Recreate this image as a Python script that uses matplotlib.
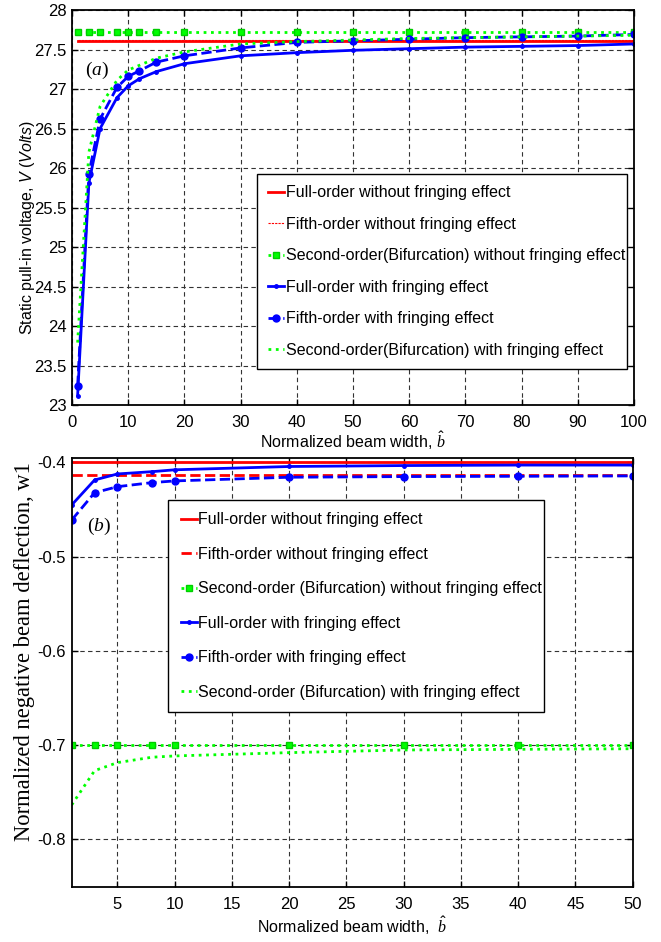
import matplotlib
matplotlib.use("Agg")
import matplotlib.pyplot as plt
from matplotlib import font_manager as fm

names = {f.name for f in fm.fontManager.ttflist}
SANS = "Liberation Sans Narrow" if "Liberation Sans Narrow" in names else "Liberation Sans"
SERIF = "Liberation Serif"

plt.rcParams["font.family"] = [SANS, "DejaVu Sans"]
plt.rcParams["mathtext.fontset"] = "custom"
plt.rcParams["mathtext.rm"] = SANS
plt.rcParams["mathtext.it"] = SANS + ":italic"
plt.rcParams["mathtext.sf"] = SERIF + ":italic"

# ---------------- data (a) ----------------
b_a = [1, 3, 5, 8, 10, 12, 15, 20, 30, 40, 50, 60, 70, 80, 90, 100]
full_nofr_a = [27.61] * len(b_a)
fifth_nofr_a = [27.615] * len(b_a)
second_nofr_a = [27.727] * len(b_a)
full_fr_a = [23.12, 25.81, 26.50, 26.89, 27.04, 27.13, 27.22, 27.32, 27.42, 27.46,
             27.49, 27.51, 27.53, 27.54, 27.55, 27.57]
fifth_fr_a = [23.24, 25.93, 26.62, 27.02, 27.16, 27.23, 27.34, 27.42, 27.52, 27.59,
              27.61, 27.63, 27.65, 27.66, 27.67, 27.69]
second_fr_a = [23.79, 26.20, 26.78, 27.11, 27.24, 27.30, 27.39, 27.47, 27.57, 27.60,
               27.62, 27.64, 27.65, 27.66, 27.67, 27.68]

# ---------------- data (b) ----------------
b_b = [1, 3, 5, 8, 10, 20, 30, 40, 50]
full_nofr_b = [-0.400] * len(b_b)
fifth_nofr_b = [-0.4135] * len(b_b)
second_nofr_b = [-0.700] * len(b_b)
full_fr_b = [-0.4453, -0.4188, -0.4124, -0.4100, -0.4080, -0.4045, -0.4035, -0.4030, -0.4030]
fifth_fr_b = [-0.4613, -0.4323, -0.4259, -0.4216, -0.4198, -0.4159, -0.4152, -0.4149, -0.4145]
second_fr_b = [-0.7636, -0.7272, -0.7187, -0.7130, -0.7116, -0.7081, -0.7053, -0.7046, -0.7040]

labels_a = ["Full-order without fringing effect",
            "Fifth-order without fringing effect",
            "Second-order(Bifurcation) without fringing effect",
            "Full-order with fringing effect",
            "Fifth-order with fringing effect",
            "Second-order(Bifurcation) with fringing effect"]
labels_b = ["Full-order without fringing effect",
            "Fifth-order without fringing effect",
            "Second-order (Bifurcation) without fringing effect",
            "Full-order with fringing effect",
            "Fifth-order with fringing effect",
            "Second-order (Bifurcation) with fringing effect"]

RED, BLUE, GREEN = "#ff0000", "#0000ff", "#00ff00"

fig = plt.figure(figsize=(6.61, 9.42), dpi=100)
ax1 = fig.add_axes([72/661, 1-405/942, 562/661, 395/942])
ax2 = fig.add_axes([71.7/661, 1-887.3/942, 561/661, 429/942])


def style(ax):
    ax.grid(True, color="#333333", linestyle=(0, (4, 3)), linewidth=0.8)
    ax.set_axisbelow(True)
    ax.tick_params(direction="in", length=4, width=1, top=True, right=True,
                   labelsize=12)
    ax.tick_params(axis="x", pad=7)
    ax.tick_params(axis="y", pad=4)
    for s in ax.spines.values():
        s.set_linewidth(1.3)


# ----- panel (a) -----
ax1.plot(b_a, full_nofr_a, color=RED, lw=2, label=labels_a[0])
ax1.plot(b_a, fifth_nofr_a, color=RED, lw=0.8, linestyle=(0, (2, 1)), label=labels_a[1])
ax1.plot(b_a, second_nofr_a, color=GREEN, lw=2, linestyle=":", marker="s", ms=5,
         mfc=GREEN, mec="#00cc00", label=labels_a[2])
ax1.plot(b_a, full_fr_a, color=BLUE, lw=2, marker=".", ms=5, label=labels_a[3])
ax1.plot(b_a, fifth_fr_a, color=BLUE, lw=2, linestyle="--", marker="o", ms=5,
         label=labels_a[4])
ax1.plot(b_a, second_fr_a, color=GREEN, lw=2, linestyle=":", label=labels_a[5])
ax1.set_xlim(0, 100)
ax1.set_ylim(23, 28)
ax1.set_xticks(range(0, 101, 10))
ax1.set_yticks([23, 23.5, 24, 24.5, 25, 25.5, 26, 26.5, 27, 27.5, 28])
ax1.set_yticklabels(["23", "23.5", "24", "24.5", "25", "25.5", "26", "26.5", "27", "27.5", "28"])
style(ax1)
ax1.set_xlabel(r"Normalized beam width, $\hat{\mathsf{b}}$", fontsize=11.5, labelpad=0)
ax1.set_ylabel(r"Static pull-in voltage, $V$ ($Volts$)", fontsize=11.5)
ax1.yaxis.set_label_coords(-0.062, 0.448)
ax1.text(2.3, 27.24, r"($\mathsf{a}$)", family=SERIF, fontsize=14, va="center")
leg1 = ax1.legend(loc="upper left", bbox_to_anchor=(0.329, 0.097, 0.658, 0.488),
                  mode="expand", fontsize=11.5, frameon=True, fancybox=False,
                  edgecolor="black", framealpha=1, handlelength=1.0,
                  handletextpad=0.08, labelspacing=1.03, borderpad=0.72,
                  borderaxespad=0)
leg1.get_frame().set_linewidth(1.0)

# ----- panel (b) -----
ax2.plot(b_b, full_nofr_b, color=RED, lw=2, label=labels_b[0])
ax2.plot(b_b, fifth_nofr_b, color=RED, lw=2, linestyle="--", label=labels_b[1])
ax2.plot(b_b, second_nofr_b, color=GREEN, lw=2, linestyle=":", marker="s", ms=5,
         mfc=GREEN, mec="#00cc00", label=labels_b[2])
ax2.plot(b_b, full_fr_b, color=BLUE, lw=2, marker=".", ms=5, label=labels_b[3])
ax2.plot(b_b, fifth_fr_b, color=BLUE, lw=2, linestyle="--", marker="o", ms=5,
         label=labels_b[4])
ax2.plot(b_b, second_fr_b, color=GREEN, lw=2, linestyle=":", label=labels_b[5])
ax2.set_xlim(1, 50)
ax2.set_ylim(-0.851, -0.3958)
ax2.set_xticks(range(5, 51, 5))
ax2.set_yticks([-0.8, -0.7, -0.6, -0.5, -0.4])
ax2.set_yticklabels(["-0.8", "-0.7", "-0.6", "-0.5", "-0.4"])
style(ax2)
ax2.set_xlabel(r"Normalized beam width,  $\hat{\mathsf{b}}$", fontsize=11.5, labelpad=2)
ax2.set_ylabel("Normalized negative beam deflection, w1", family=SERIF, fontsize=16.3)
ax2.yaxis.set_label_coords(-0.0654, 0.5485)
ax2.text(2.3, -0.468, r"($\mathsf{b}$)", family=SERIF, fontsize=14, va="center")
leg2 = ax2.legend(loc="upper left", bbox_to_anchor=(0.172, 0.413, 0.669, 0.49),
                  mode="expand", fontsize=11.5, frameon=True, fancybox=False,
                  edgecolor="black", framealpha=1, handlelength=1.0,
                  handletextpad=0.08, labelspacing=1.22, borderpad=0.78,
                  borderaxespad=0)
leg2.get_frame().set_linewidth(1.0)

fig.savefig("out.png", dpi=100)
